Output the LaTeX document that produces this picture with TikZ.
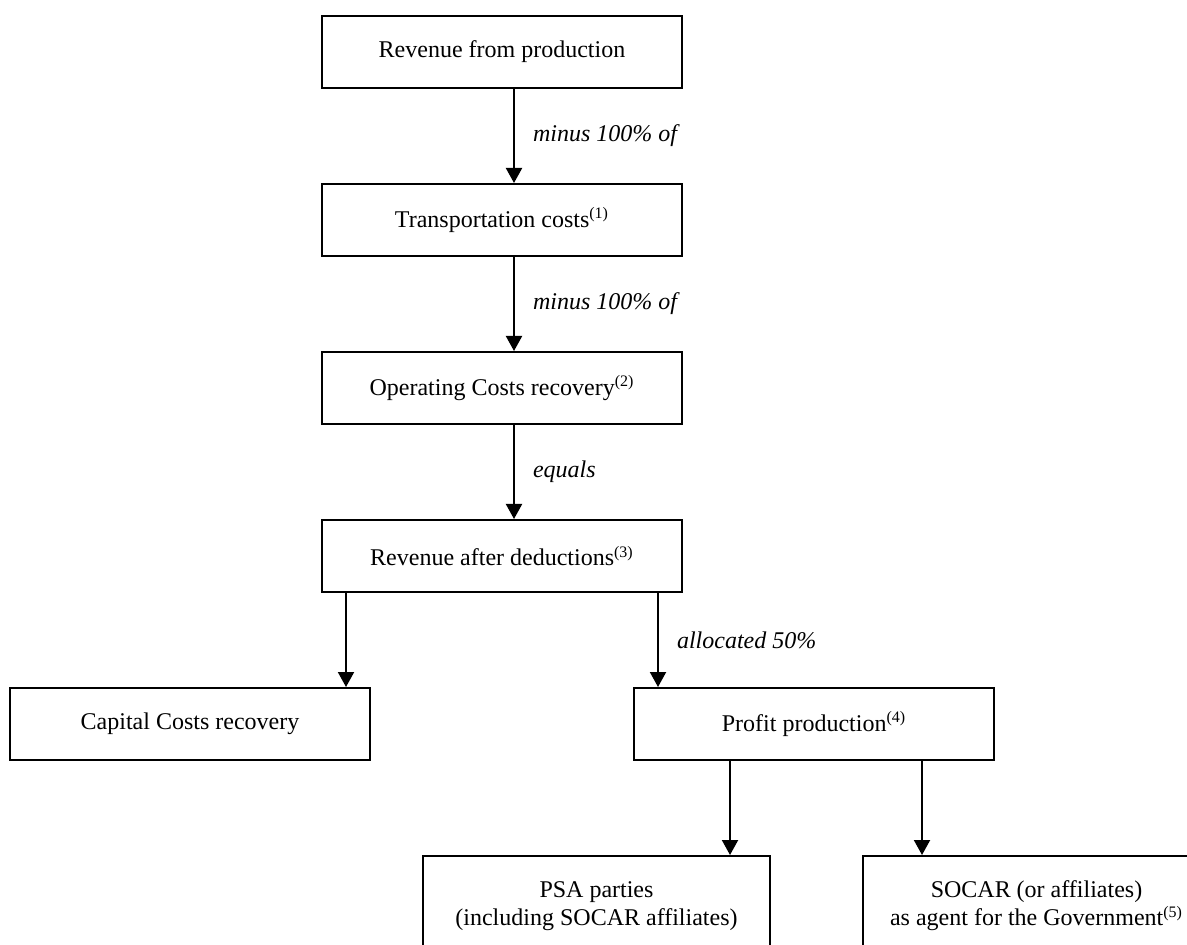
\documentclass[tikz,border=0pt]{standalone}
\usepackage{fontspec}
\setmainfont{Liberation Serif}
\usetikzlibrary{arrows.meta}
\begin{document}
\begin{tikzpicture}[x=0.5pt,y=-0.5pt,
  box/.style={draw,line width=1pt,minimum width=180pt,minimum height=36pt,inner sep=0pt,align=center,font=\fontsize{12}{14}\selectfont},
  wbox/.style={box,minimum width=173.5pt,minimum height=50pt},
  arr/.style={line width=1pt,-{Triangle[width=8pt,length=7.5pt]}},
  lbl/.style={midway,anchor=west,xshift=9pt,inner sep=0pt,font=\fontsize{12}{14}\selectfont\itshape}]
\useasboundingbox (0,0) rectangle (1187,945);
\node[box] (b1) at (502,52) {Revenue from production};
\node[box] (b2) at (502,220) {Transportation costs\textsuperscript{(1)}};
\node[box] (b3) at (502,388) {Operating Costs recovery\textsuperscript{(2)}};
\node[box] (b4) at (502,556) {Revenue after deductions\textsuperscript{(3)}};
\node[box] (cap) at (190,724) {Capital Costs recovery};
\node[box] (prof) at (814,724) {Profit production\textsuperscript{(4)}};
\node[wbox] (psa) at (596.5,906) {PSA parties\\(including SOCAR affiliates)};
\node[wbox] (soc) at (1036.5,906) {SOCAR (or affiliates)\\as agent for the Government\textsuperscript{(5)}};
\draw[arr] ([xshift=6pt]b1.south) -- node[lbl]{minus 100\% of} ([xshift=6pt]b2.north);
\draw[arr] ([xshift=6pt]b2.south) -- node[lbl]{minus 100\% of} ([xshift=6pt]b3.north);
\draw[arr] ([xshift=6pt]b3.south) -- node[lbl]{equals} ([xshift=6pt]b4.north);
\draw[arr] ([xshift=-78pt]b4.south) -- ([xshift=78pt]cap.north);
\draw[arr] ([xshift=78pt]b4.south) -- node[lbl]{allocated 50\%} ([xshift=-78pt]prof.north);
\draw[arr] ([xshift=-42pt]prof.south) -- ([xshift=66.75pt]psa.north);
\draw[arr] ([xshift=54pt]prof.south) -- ([xshift=-57.25pt]soc.north);
\end{tikzpicture}
\end{document}
